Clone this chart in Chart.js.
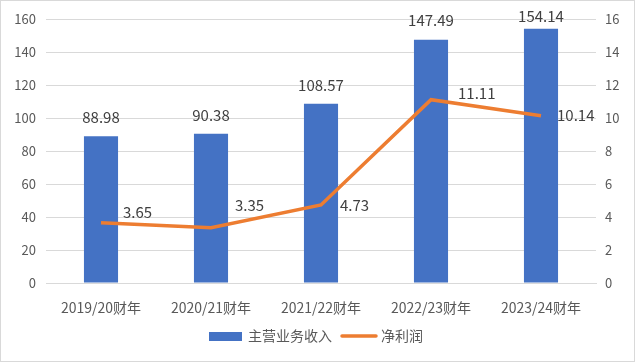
<!DOCTYPE html>
<html>
<head>
<meta charset="utf-8">
<script src="https://cdn.jsdelivr.net/npm/chart.js@4.4.0/dist/chart.umd.min.js"></script>
<style>
  body { margin: 0; background: #fff; }
  .wrap { width: 635px; height: 362px; box-sizing: border-box; border: 1px solid #d9d9d9; }
  canvas { display: block; }
</style>
</head>
<body>
<div class="wrap"><canvas id="chart" width="633" height="360"></canvas></div>
<script>
const categories = ["2019/20财年", "2020/21财年", "2021/22财年", "2022/23财年", "2023/24财年"];
const revenue = [88.98, 90.38, 108.57, 147.49, 154.14];
const netProfit = [3.65, 3.35, 4.73, 11.11, 10.14];
const leftTicks = [0, 20, 40, 60, 80, 100, 120, 140, 160];
const rightTicks = [0, 2, 4, 6, 8, 10, 12, 14, 16];
const seriesNames = ["主营业务收入", "净利润"];

const FONT = "'Noto Sans CJK SC', 'Noto Sans', sans-serif";
const BLUE = "#4472C4";
const ORANGE = "#ED7D31";
const TEXT = "#595959";

// hand placement of the line labels, like the original
const lineLabelShift = [[22, -10], [24, -22], [19, 0], [27, -6], [16, 0]];

const labelsPlugin = {
  id: "labels",
  afterDatasetsDraw(chart) {
    const ctx = chart.ctx;
    ctx.save();
    ctx.font = "15px " + FONT;
    ctx.fillStyle = "#404040";
    ctx.textBaseline = "middle";

    ctx.textAlign = "center";
    chart.getDatasetMeta(1).data.forEach(function (bar, i) {
      const y = Math.max(bar.y - 19, 15);
      ctx.fillText(revenue[i].toFixed(2), bar.x, y);
    });

    ctx.textAlign = "left";
    chart.getDatasetMeta(0).data.forEach(function (pt, i) {
      const s = lineLabelShift[i];
      ctx.fillText(netProfit[i].toFixed(2), pt.x + s[0], pt.y + s[1]);
    });

    // legend
    const ly = 335;
    ctx.font = "14px " + FONT;
    ctx.fillStyle = BLUE;
    ctx.fillRect(208, ly - 4, 33, 9);
    ctx.fillStyle = TEXT;
    ctx.fillText(seriesNames[0], 247, ly);
    ctx.strokeStyle = ORANGE;
    ctx.lineWidth = 3.5;
    ctx.lineCap = "round";
    ctx.beginPath();
    ctx.moveTo(341, ly);
    ctx.lineTo(375, ly);
    ctx.stroke();
    ctx.fillText(seriesNames[1], 380, ly);
    ctx.restore();
  }
};

new Chart(document.getElementById("chart"), {
  data: {
    labels: categories,
    datasets: [
      {
        type: "line",
        label: seriesNames[1],
        data: netProfit,
        yAxisID: "y1",
        borderColor: ORANGE,
        borderWidth: 3.5,
        pointRadius: 0,
        tension: 0,
        order: 0
      },
      {
        type: "bar",
        label: seriesNames[0],
        data: revenue,
        yAxisID: "y",
        backgroundColor: BLUE,
        barPercentage: 0.31,
        categoryPercentage: 1,
        order: 1
      }
    ]
  },
  options: {
    responsive: false,
    animation: false,
    layout: { padding: { top: 18, left: 0, right: 0, bottom: 0 } },
    plugins: {
      legend: { display: false },
      tooltip: { enabled: false }
    },
    scales: {
      x: {
        grid: { display: false },
        border: { color: "#d9d9d9" },
        ticks: { color: TEXT, font: { family: FONT, size: 14 }, padding: 8 },
        afterFit(scale) { scale.height = 78; }
      },
      y: {
        position: "left",
        min: 0,
        max: 160,
        afterBuildTicks(scale) { scale.ticks = leftTicks.map(function (v) { return { value: v }; }); },
        grid: { color: "#d9d9d9", drawTicks: false },
        border: { display: false },
        ticks: { color: TEXT, font: { family: FONT, size: 13 }, padding: 10 },
        afterFit(scale) { scale.width = 45; }
      },
      y1: {
        position: "right",
        min: 0,
        max: 16,
        afterBuildTicks(scale) { scale.ticks = rightTicks.map(function (v) { return { value: v }; }); },
        grid: { display: false, drawTicks: false },
        border: { display: false },
        ticks: { color: TEXT, font: { family: FONT, size: 13 }, padding: 9 },
        afterFit(scale) { scale.width = 38; }
      }
    }
  },
  plugins: [labelsPlugin]
});
</script>
</body>
</html>
